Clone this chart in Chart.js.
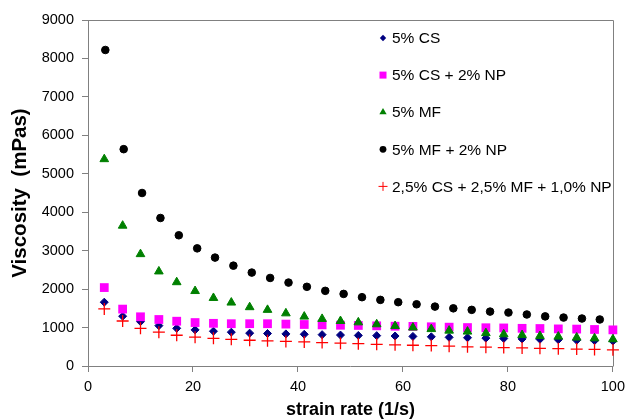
<!DOCTYPE html>
<html>
<head>
<meta charset="utf-8">
<title>Viscosity vs strain rate</title>
<script src="https://cdn.jsdelivr.net/npm/chart.js@4.4.1/dist/chart.umd.min.js"></script>
<style>
  html, body { margin: 0; padding: 0; background: #ffffff; }
  canvas { display: block; }
</style>
</head>
<body>
<canvas id="viscosityChart" width="631" height="419"></canvas>
<script>
// strain rate (1/s) for the measured points
const strainRate = [3.1, 6.6, 10.0, 13.5, 16.9, 20.4, 23.9, 27.3, 30.8, 34.2, 37.7, 41.2, 44.6, 48.1, 51.5,
    55.0, 58.5, 61.9, 65.4, 68.8, 72.3, 75.8, 79.2, 82.7, 86.1, 89.6, 93.1, 96.5, 100.0];
// the MF + NP run sits slightly to the right and stops one point early
const strainRateMfNp = [3.3, 6.8, 10.3, 13.8, 17.3, 20.8, 24.2, 27.7, 31.2, 34.7, 38.2, 41.7, 45.2, 48.7,
    52.2, 55.7, 59.1, 62.6, 66.1, 69.6, 73.1, 76.6, 80.1, 83.6, 87.1, 90.6, 94.1, 97.5];

// viscosity (mPas)
const cs5 = [1660, 1295, 1155, 1050, 980, 940, 905, 880, 855, 845, 835, 825, 815, 805, 795, 790, 780,
    770, 760, 745, 735, 725, 715, 705, 695, 685, 670, 660, 650];
const cs5np2 = [2040, 1480, 1280, 1210, 1165, 1130, 1110, 1100, 1100, 1100, 1090, 1080, 1070, 1060, 1055,
    1045, 1035, 1030, 1020, 1010, 1000, 995, 990, 980, 975, 965, 960, 950, 940];
const mf5 = [5380, 3650, 2910, 2460, 2180, 1950, 1770, 1650, 1530, 1460, 1370, 1285, 1225, 1170, 1135,
    1085, 1040, 1000, 960, 920, 895, 855, 825, 805, 780, 765, 740, 720, 695];
const mf5np2 = [8220, 5640, 4500, 3850, 3400, 3060, 2820, 2610, 2430, 2290, 2170, 2060, 1955, 1875, 1790,
    1720, 1660, 1605, 1545, 1500, 1460, 1415, 1390, 1340, 1290, 1260, 1235, 1210];
const mixNp = [1485, 1170, 980, 880, 800, 750, 720, 695, 670, 655, 640, 625, 610, 595, 580, 565, 550,
    540, 530, 515, 500, 490, 480, 470, 460, 450, 440, 430, 420];

const seriesLabels = ['5% CS', '5% CS + 2% NP', '5% MF', '5% MF + 2% NP', '2,5% CS + 2,5% MF + 1,0% NP'];
const xTicks = [0, 20, 40, 60, 80, 100];

const FONT = '"Liberation Sans", Arial, Helvetica, sans-serif';
const AXIS_GREY = '#808080';

const pairs = (xs, ys) => ys.map((y, i) => ({ x: xs[i], y: y }));

function marker(ctx, style, color, x, y, r) {
    ctx.save();
    ctx.fillStyle = color;
    ctx.strokeStyle = color;
    ctx.lineWidth = 1;
    ctx.beginPath();
    if (style === 'rectRot') {
        ctx.moveTo(x - r, y); ctx.lineTo(x, y - r); ctx.lineTo(x + r, y); ctx.lineTo(x, y + r);
        ctx.closePath(); ctx.fill();
    } else if (style === 'rect') {
        ctx.rect(x - r, y - r, 2 * r, 2 * r); ctx.fill();
    } else if (style === 'triangle') {
        ctx.moveTo(x, y - r); ctx.lineTo(x + r * 0.866, y + r * 0.5); ctx.lineTo(x - r * 0.866, y + r * 0.5);
        ctx.closePath(); ctx.fill();
    } else if (style === 'circle') {
        ctx.arc(x, y, r, 0, Math.PI * 2); ctx.fill();
    } else if (style === 'cross') {
        ctx.moveTo(x - r, y); ctx.lineTo(x + r, y); ctx.moveTo(x, y - r); ctx.lineTo(x, y + r);
        ctx.stroke();
    }
    ctx.restore();
}

// plot frame: top and right edges in the same grey as the axes
const framePlugin = {
    id: 'frame',
    beforeDatasetsDraw(chart) {
        const { ctx, chartArea: a } = chart;
        ctx.save();
        ctx.strokeStyle = AXIS_GREY;
        ctx.lineWidth = 1;
        ctx.beginPath();
        ctx.moveTo(Math.round(a.left) + 0.5, Math.round(a.top) + 0.5);
        ctx.lineTo(Math.round(a.right) + 0.5, Math.round(a.top) + 0.5);
        ctx.lineTo(Math.round(a.right) + 0.5, Math.round(a.bottom) + 0.5);
        ctx.stroke();
        ctx.restore();
    }
};

// legend sits inside the plot, upper right, one entry per row
const innerLegend = {
    id: 'innerLegend',
    afterDraw(chart) {
        const { ctx } = chart;
        const items = [
            { style: 'rectRot', color: '#000080', r: 3.2 },
            { style: 'rect', color: '#ff00ff', r: 3.5 },
            { style: 'triangle', color: '#008000', r: 4.2 },
            { style: 'circle', color: '#000000', r: 3.4 },
            { style: 'cross', color: '#ff0000', r: 4.5 }
        ];
        ctx.save();
        ctx.font = '15.5px ' + FONT;
        ctx.fillStyle = '#000000';
        ctx.textBaseline = 'middle';
        ctx.textAlign = 'left';
        items.forEach((it, i) => {
            const y = 38 + i * 37.1;
            marker(ctx, it.style, it.color, 383, y, it.r);
            ctx.fillText(seriesLabels[i], 392, y + 1);
        });
        ctx.restore();
    }
};

Chart.defaults.font.family = FONT;
Chart.defaults.color = '#000000';

const ctx = document.getElementById('viscosityChart').getContext('2d');
new Chart(ctx, {
    type: 'scatter',
    data: {
        datasets: [
            {
                label: seriesLabels[0], data: pairs(strainRate, cs5), order: 5,
                pointStyle: 'rectRot', pointRadius: 4, borderWidth: 1,
                backgroundColor: '#000080', borderColor: '#000080'
            },
            {
                label: seriesLabels[1], data: pairs(strainRate, cs5np2), order: 4,
                pointStyle: 'rect', pointRadius: 6.2, borderWidth: 0,
                backgroundColor: '#ff00ff', borderColor: '#ff00ff'
            },
            {
                label: seriesLabels[2], data: pairs(strainRate, mf5), order: 3,
                pointStyle: 'triangle', pointRadius: 5, borderWidth: 1,
                backgroundColor: '#008000', borderColor: '#008000'
            },
            {
                label: seriesLabels[3], data: pairs(strainRateMfNp, mf5np2), order: 2,
                pointStyle: 'circle', pointRadius: 3.8, borderWidth: 1,
                backgroundColor: '#000000', borderColor: '#000000'
            },
            {
                label: seriesLabels[4], data: pairs(strainRate, mixNp), order: 1,
                pointStyle: 'cross', pointRadius: 6, borderWidth: 1.3,
                backgroundColor: '#ff0000', borderColor: '#ff0000'
            }
        ]
    },
    options: {
        responsive: false,
        animation: false,
        clip: false,
        layout: { padding: { top: 20, right: 14, left: 0, bottom: 0 } },
        plugins: {
            legend: { display: false },
            tooltip: { enabled: false }
        },
        scales: {
            x: {
                type: 'linear',
                min: 0, max: 100,
                afterFit: s => { s.height = 53; },
                afterBuildTicks: s => { s.ticks = xTicks.map(v => ({ value: v })); },
                ticks: { font: { size: 14.5 }, padding: 6, color: '#000000', callback: v => String(v) },
                grid: { drawOnChartArea: false, drawTicks: true, tickLength: 6, color: AXIS_GREY },
                border: { display: true, color: AXIS_GREY, width: 1 },
                title: {
                    display: true, text: 'strain rate (1/s)', color: '#000000',
                    font: { size: 18, weight: 'bold', lineHeight: 1 }, padding: { top: 0, bottom: 0 }
                }
            },
            y: {
                min: 0, max: 9000,
                afterFit: s => { s.width = 88; },
                ticks: { stepSize: 1000, font: { size: 14.5 }, padding: 8, color: '#000000', callback: v => String(v) },
                grid: { drawOnChartArea: false, drawTicks: true, tickLength: 6, color: AXIS_GREY },
                border: { display: true, color: AXIS_GREY, width: 1 },
                title: {
                    display: true, text: 'Viscosity  (mPas)', color: '#000000',
                    font: { size: 20.5, weight: 'bold', lineHeight: 1 }, padding: { top: 10, bottom: 0 }
                }
            }
        }
    },
    plugins: [framePlugin, innerLegend]
});
</script>
</body>
</html>
